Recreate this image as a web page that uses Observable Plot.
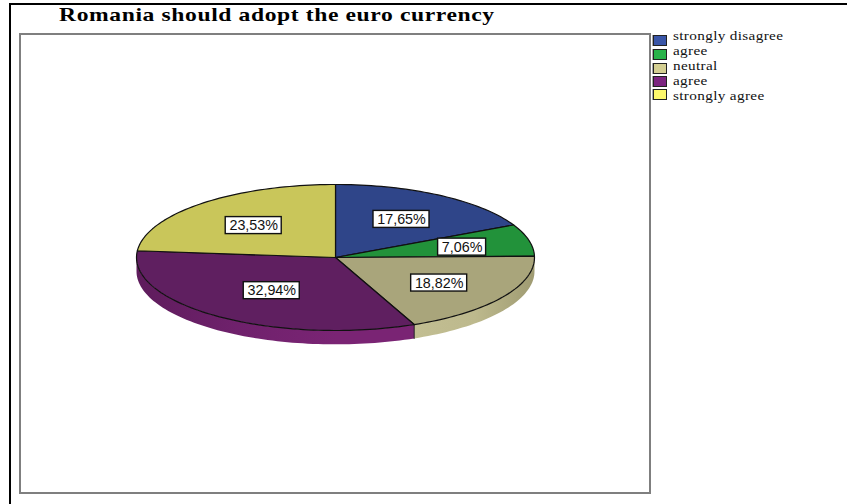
<!DOCTYPE html>
<html>
<head>
<meta charset="utf-8">
<script src="https://cdn.jsdelivr.net/npm/d3@7"></script>
<script src="https://cdn.jsdelivr.net/npm/@observablehq/plot@0.6"></script>
<style>
  html, body { margin: 0; padding: 0; background: #fff; width: 847px; height: 504px; overflow: hidden; }
  #sheet { position: absolute; left: 9px; top: 3px; width: 838px; height: 501px; border-top: 2px solid #000; border-left: 2.5px solid #000; box-sizing: border-box; }
  #title { position: absolute; left: 59px; top: 4px; white-space: nowrap; font: bold 19.5px "Liberation Serif", serif; letter-spacing: 0.5px; color: #000; transform: scaleX(1.21); transform-origin: 0 0; }
  #frame { position: absolute; left: 19px; top: 33px; width: 632px; height: 461px; border: 2px solid #7f7f7f; box-sizing: border-box; background: #fff; }
  #frame svg { display: block; }
  .swatch { position: absolute; left: 653px; width: 14px; height: 11px; box-sizing: border-box; border: 1px solid #222; box-shadow: -1px 0 0 #aaa; }
  .entry { position: absolute; left: 673px; white-space: nowrap; font: 13px "Liberation Serif", serif; letter-spacing: 0.3px; line-height: 14px; color: #111; transform: scaleX(1.17); transform-origin: 0 0; }
</style>
</head>
<body>
<div id="sheet"></div>
<div id="title">Romania should adopt the euro currency</div>
<div id="frame"></div>
<script>
// Survey responses, share of respondents in percent
const categories = ["strongly disagree", "agree", "neutral", "agree", "strongly agree"];
const shares = [17.65, 7.06, 18.82, 32.94, 23.53];
const shareLabels = ["17,65%", "7,06%", "18,82%", "32,94%", "23,53%"];

// Colours for the top faces, the rim and the legend keys
const topColors = ["#2f4589", "#22923a", "#a9a57b", "#5f1f60", "#c9c65a"];
const legendColors = ["#3a56a8", "#29b34a", "#d4cf92", "#7c2480", "#fdf86c"];

// Pie drawn on a unit circle, flattened by the y scale
const plotWidth = 628, plotHeight = 457;
const centerX = 314, centerY = 222, radiusX = 199, radiusY = 73;
const rimDepth = 0.19;
const labelRadius = [0.63, 0.655, 0.62, 0.545, 0.61];
const labelDrop = 1 / radiusY;
const boxHalfHeight = 8.5 / radiusY;

const rad = d => d * Math.PI / 180;
const at = (deg, drop = 0) => ({x: Math.sin(rad(deg)), y: Math.cos(rad(deg)) - drop});
const arc = (from, to, drop = 0) => {
  const n = Math.max(2, Math.ceil((to - from) / 1.5));
  return d3.range(n + 1).map(i => at(from + (to - from) * i / n, drop));
};

const ends = d3.cumsum(shares).map(v => v * 3.6);
const starts = ends.map((_, i) => (i ? ends[i - 1] : 0));

// Top face of every slice as a closed outline
const faces = shares.flatMap((_, i) => {
  const c = {x: 0, y: 0};
  return [c, ...arc(starts[i], ends[i]), c].map(p => ({...p, slice: i, color: topColors[i]}));
});

// Rim: only the part of the circle that faces the viewer
const rims = [
  {slice: 2, color: "url(#rimTan)"},
  {slice: 3, color: "url(#rimPurple)"}
].flatMap(({slice, color}) => {
  const from = Math.max(starts[slice], 90), to = Math.min(ends[slice], 270);
  return [...arc(from, to), ...arc(from, to, rimDepth).reverse()].map(p => ({...p, slice, color}));
});

// Vertical seam where the neutral and agree rims meet
const seam = [at(ends[2]), at(ends[2], rimDepth)];

// Value labels sit along each slice's middle angle
const labels = shares.map((_, i) => {
  const mid = at((starts[i] + ends[i]) / 2);
  const halfWidth = (shareLabels[i].length * 8 + 8) / 2 / radiusX;
  const x = mid.x * labelRadius[i], y = mid.y * labelRadius[i] - labelDrop;
  return {x, y, x1: x - halfWidth, x2: x + halfWidth, y1: y - boxHalfHeight, y2: y + boxHalfHeight, text: shareLabels[i]};
});

const chart = Plot.plot({
  width: plotWidth,
  height: plotHeight,
  margin: 0,
  x: {domain: [-1, 1], range: [centerX - radiusX, centerX + radiusX], axis: null},
  y: {domain: [-1, 1], range: [centerY + radiusY, centerY - radiusY], axis: null},
  marks: [
    Plot.line(rims, {x: "x", y: "y", z: "slice", fill: {value: "color", scale: null}, stroke: "none"}),
    Plot.line(seam, {x: "x", y: "y", stroke: "#222", strokeWidth: 1}),
    Plot.line(faces, {x: "x", y: "y", z: "slice", fill: {value: "color", scale: null}, stroke: "#111", strokeWidth: 1.2, strokeLinejoin: "round"}),
    Plot.rect(labels, {x1: "x1", x2: "x2", y1: "y1", y2: "y2", fill: "white", stroke: "#111", strokeWidth: 1.4}),
    Plot.text(labels, {x: "x", y: "y", text: "text", fontSize: 14.3, fontFamily: "Liberation Sans", fill: "#111"})
  ]
});

// Horizontal shading for the rim
const svg = d3.select(chart);
const defs = svg.insert("defs", ":first-child");
[["rimTan", ["#9f9b72", "#bdb98d", "#c2be92"]], ["rimPurple", ["#7a2474", "#6f216c", "#5e1c5c"]]].forEach(([id, stops]) => {
  const g = defs.append("linearGradient").attr("id", id)
    .attr("gradientUnits", "userSpaceOnUse")
    .attr("x1", id === "rimTan" ? centerX + radiusX : centerX)
    .attr("x2", id === "rimTan" ? centerX + radiusX * 0.4 : centerX - radiusX)
    .attr("y1", 0).attr("y2", 0);
  stops.forEach((c, i) => g.append("stop").attr("offset", i / (stops.length - 1)).attr("stop-color", c));
});
document.getElementById("frame").append(chart);

// Legend keys and entries
const keyTops = [35, 49, 63, 76, 89];
const entryTops = [29, 44, 59, 74, 89];
categories.forEach((name, i) => {
  const key = document.createElement("div");
  key.className = "swatch";
  key.style.top = keyTops[i] + "px";
  key.style.background = legendColors[i];
  document.body.append(key);
  const entry = document.createElement("div");
  entry.className = "entry";
  entry.style.top = entryTops[i] + "px";
  entry.textContent = name;
  document.body.append(entry);
});
</script>
</body>
</html>
